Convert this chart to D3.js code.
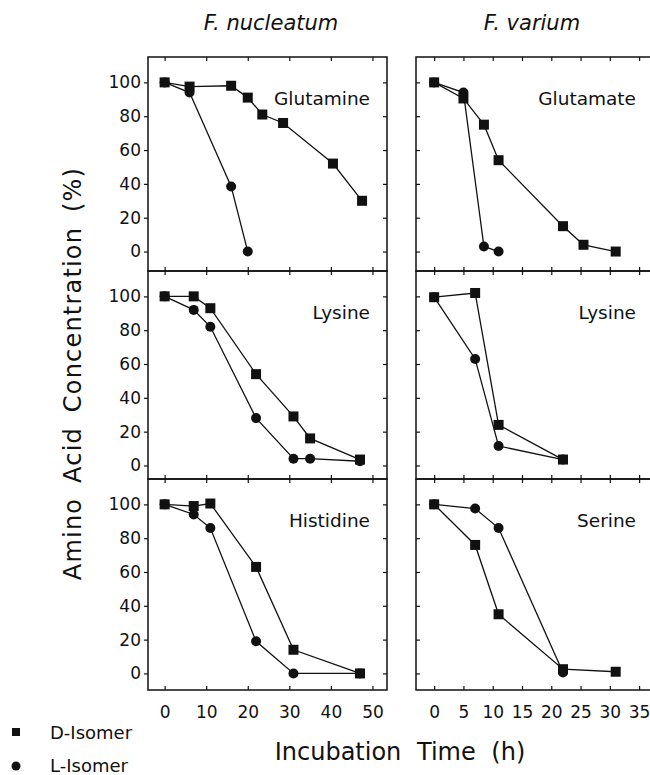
<!DOCTYPE html>
<html>
<head>
<meta charset="utf-8">
<script src="https://cdn.jsdelivr.net/npm/d3@7"></script>
<style>
  body { margin: 0; background: #fff; }
  text { font-family: "DejaVu Sans", sans-serif; fill: #111; }
</style>
</head>
<body>
<div id="chart"></div>
<script>
const WIDTH = 650
const HEIGHT = 775

// [incubation time (h), amino acid concentration (%)]
const glutamineD = [[0, 100], [6, 97.5], [16, 98], [20, 91], [23.5, 81], [28.5, 76], [40.5, 52], [47.5, 30]]
const glutamineL = [[0, 100], [6, 94], [16, 38.5], [20, 0]]
const glutamateD = [[0, 100], [5, 90.5], [8.5, 75], [11, 54], [22, 15], [25.5, 4], [31, 0]]
const glutamateL = [[0, 100], [5, 94], [8.5, 3], [11, 0]]
const lysineNucD = [[0, 100], [7, 100], [11, 93], [22, 54], [31, 29], [35, 16], [47, 3.5]]
const lysineNucL = [[0, 100], [7, 92], [11, 82], [22, 28], [31, 4], [35, 4], [47, 2.5]]
const lysineVarD = [[0, 99.5], [7, 102], [11, 24], [22, 3.5]]
const lysineVarL = [[0, 99.5], [7, 63], [11, 11.5], [22, 3.5]]
const histidineD = [[0, 100], [7, 99], [11, 100.5], [22, 63], [31, 14], [47, 0]]
const histidineL = [[0, 100], [7, 94], [11, 86], [22, 19], [31, 0], [47, 0]]
const serineD = [[0, 100], [7, 76], [11, 35], [22, 2.5], [31, 1]]
const serineL = [[0, 100], [7, 97.5], [11, 86], [22, 0.5]]

const species = ["F. nucleatum", "F. varium"]
const aminoAcids = ["Glutamine", "Glutamate", "Lysine", "Lysine", "Histidine", "Serine"]
const xTicksNuc = [0, 10, 20, 30, 40, 50]
const xTicksVar = [0, 5, 10, 15, 20, 25, 30, 35]
const yTicks = [0, 20, 40, 60, 80, 100]
const legendLabels = ["D-Isomer", "L-Isomer"]

const panels = [
  {row: 0, col: 0, d: glutamineD, l: glutamineL},
  {row: 0, col: 1, d: glutamateD, l: glutamateL},
  {row: 1, col: 0, d: lysineNucD, l: lysineNucL},
  {row: 1, col: 1, d: lysineVarD, l: lysineVarL},
  {row: 2, col: 0, d: histidineD, l: histidineL},
  {row: 2, col: 1, d: serineD, l: serineL},
]

// layout
const colLeft = [148, 416]
const colRight = [387, 652]
const colDomain = [[-4, 53.5], [-3.1, 37.2]]
const colTicks = [xTicksNuc, xTicksVar]
const labelRight = [370, 636]
const rowTop = [57, 271, 479]
const rowBottom = [271, 479, 690]
const rowLow = [-11.5, -8, -9.8]

const svg = d3.select("#chart")
  .append("svg")
  .attr("width", WIDTH)
  .attr("height", HEIGHT)

const xScales = [0, 1].map(c => d3.scaleLinear().domain(colDomain[c]).range([colLeft[c], colRight[c]]))

panels.forEach((p, i) => {
  const x = xScales[p.col]
  const y = d3.scaleLinear().domain([rowLow[p.row], 115]).range([rowBottom[p.row], rowTop[p.row]])
  const g = svg.append("g").attr("color", "#111")

  // inward ticks top and bottom
  g.append("g")
    .attr("transform", `translate(0,${rowTop[p.row]})`)
    .call(d3.axisBottom(x).tickValues(colTicks[p.col]).tickSize(4).tickFormat(""))
  g.append("g")
    .attr("transform", `translate(0,${rowBottom[p.row]})`)
    .call(d3.axisTop(x).tickValues(colTicks[p.col]).tickSize(4).tickFormat(""))

  if (p.col === 0) {
    g.append("g")
      .attr("transform", `translate(${colLeft[0]},0)`)
      .call(d3.axisLeft(y).tickValues(yTicks).tickSize(4).tickPadding(3))
      .selectAll("text").attr("font-size", 17).attr("font-family", null)
    g.append("g")
      .attr("transform", `translate(${colRight[0]},0)`)
      .call(d3.axisLeft(y).tickValues(yTicks).tickSize(4).tickFormat(""))
  } else {
    g.append("g")
      .attr("transform", `translate(${colLeft[1]},0)`)
      .call(d3.axisRight(y).tickValues(yTicks).tickSize(4).tickFormat(""))
  }

  if (p.row === 2) {
    g.append("g")
      .attr("transform", `translate(0,${rowBottom[2]})`)
      .call(d3.axisBottom(x).tickValues(colTicks[p.col]).tickSize(0).tickPadding(16))
      .selectAll("text").attr("font-size", 17).attr("font-family", null)
  }

  g.selectAll(".domain").remove()
  g.selectAll(".tick line").attr("stroke-width", 1.2)

  g.append("rect")
    .attr("x", colLeft[p.col])
    .attr("y", rowTop[p.row])
    .attr("width", colRight[p.col] - colLeft[p.col])
    .attr("height", rowBottom[p.row] - rowTop[p.row])
    .attr("fill", "none")
    .attr("stroke", "#111")
    .attr("stroke-width", 1.5)

  const line = d3.line().x(d => x(d[0])).y(d => y(d[1]))
  g.selectAll(".series")
    .data([p.d, p.l])
    .enter().append("path")
    .attr("d", line)
    .attr("fill", "none")
    .attr("stroke", "#111")
    .attr("stroke-width", 1.3)

  g.selectAll(".sq")
    .data(p.d)
    .enter().append("rect")
    .attr("x", d => x(d[0]) - 5)
    .attr("y", d => y(d[1]) - 5)
    .attr("width", 10)
    .attr("height", 10)
    .attr("fill", "#111")

  g.selectAll(".dot")
    .data(p.l)
    .enter().append("circle")
    .attr("cx", d => x(d[0]))
    .attr("cy", d => y(d[1]))
    .attr("r", 5)
    .attr("fill", "#111")

  g.append("text")
    .attr("x", labelRight[p.col])
    .attr("y", rowTop[p.row] + 48)
    .attr("text-anchor", "end")
    .attr("font-size", 18.5)
    .text(aminoAcids[i])
})

// column titles
svg.selectAll(".title")
  .data(species)
  .enter().append("text")
  .attr("x", (d, i) => [271, 532][i])
  .attr("y", 30)
  .attr("text-anchor", "middle")
  .attr("font-size", 21)
  .attr("font-style", "italic")
  .text(d => d)

svg.append("text")
  .attr("transform", "translate(81,373.5) rotate(-90)")
  .attr("text-anchor", "middle")
  .attr("font-size", 24)
  .style("letter-spacing", "1.2px")
  .style("word-spacing", "6px")
  .text("Amino Acid Concentration (%)")

svg.append("text")
  .attr("x", 400)
  .attr("y", 760)
  .attr("text-anchor", "middle")
  .attr("font-size", 24)
  .style("word-spacing", "8px")
  .text("Incubation Time (h)")

// legend
svg.append("rect")
  .attr("x", 12).attr("y", 728).attr("width", 8).attr("height", 8)
  .attr("fill", "#111")
svg.append("circle")
  .attr("cx", 16).attr("cy", 766).attr("r", 4.5)
  .attr("fill", "#111")
svg.selectAll(".leg")
  .data(legendLabels)
  .enter().append("text")
  .attr("x", 50)
  .attr("y", (d, i) => [739, 772][i])
  .attr("font-size", 18)
  .text(d => d)
</script>
</body>
</html>
